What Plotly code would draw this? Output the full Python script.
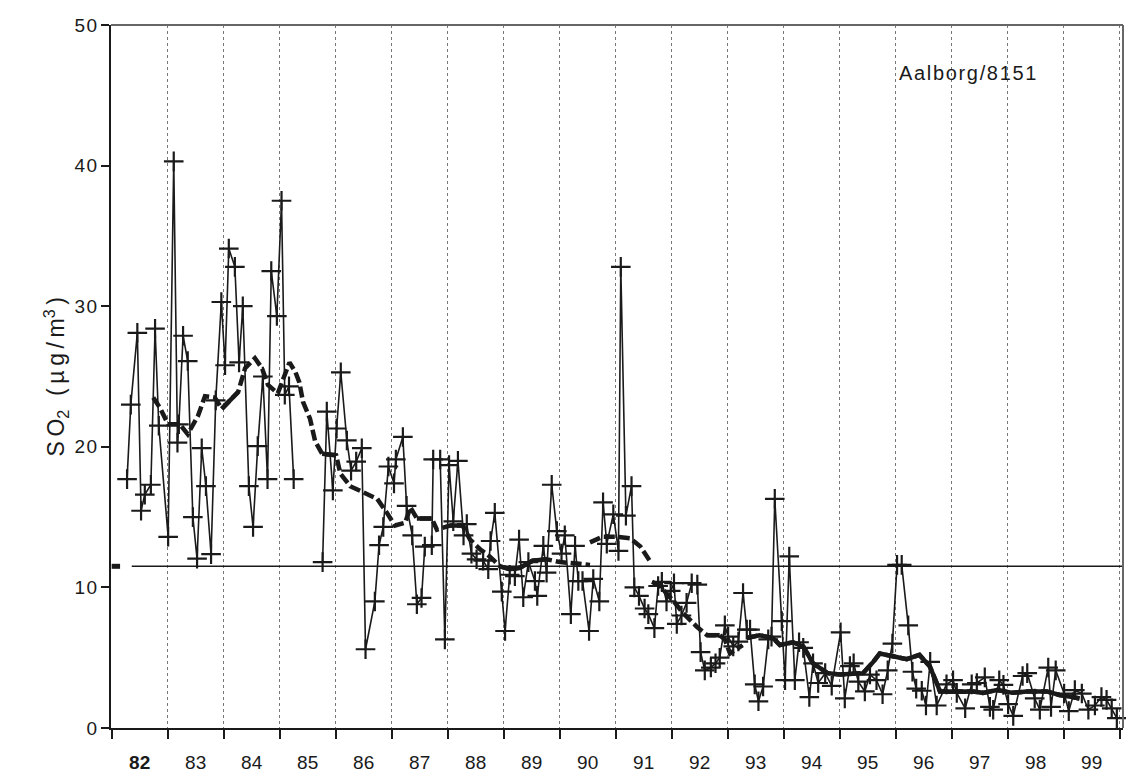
import plotly.graph_objects as go

# Monthly SO2 concentrations at Aalborg station 8151, position in months from Jan 1982
months = [
    3.3, 4.1, 5.5, 6.3, 7.1, 8.4, 9.3, 10.1, 12.1, 13.3, 14.1, 14.4, 15.3, 16.3, 17.4,
    18.3, 19.3, 20.2, 21.3, 22.3, 23.5, 24.3, 25.1, 26.4, 27.3, 28.1, 29.4, 30.3, 31.3,
    32.4, 33.4, 34.2, 35.4, 36.4, 37.1, 38.0, 39.0, 42.0, 45.2, 46.1, 47.4, 48.2, 49.1,
    50.4, 51.3, 52.4, 53.6, 54.4, 56.4, 57.3, 58.2, 59.3, 60.5, 60.9, 62.4, 63.2, 64.4,
    65.4, 66.4, 67.1, 68.6, 68.9, 70.4, 71.4, 72.3, 73.2, 74.2, 75.4, 76.1, 77.1, 78.2,
    79.6, 80.7, 81.2, 82.1, 83.6, 84.3, 85.3, 86.4, 87.3, 88.2, 89.3, 90.7, 91.2, 92.5,
    93.2, 94.3, 95.4, 96.4, 97.1, 98.4, 99.3, 100.0, 100.9, 102.3, 103.2, 104.5, 105.3,
    106.1, 107.5, 108.6, 109.1, 110.2, 111.4, 112.0, 113.0, 114.2, 115.0, 116.3, 117.1,
    117.9, 118.9, 119.8, 120.5, 121.1, 122.1, 123.2, 124.3, 125.5, 126.2, 127.1, 128.4,
    129.4, 130.3, 131.4, 132.1, 133.2, 134.3, 135.3, 136.1, 136.8, 137.8, 138.6, 139.6,
    140.7, 141.4, 142.1, 143.6, 144.3, 145.2, 146.4, 147.3, 148.2, 149.5, 150.3, 151.4,
    152.9, 154.3, 156.2, 157.1, 158.2, 159.0, 160.0, 161.4, 162.5, 163.9, 165.2, 166.3,
    167.3, 168.3, 169.3, 170.7, 171.6, 172.4, 173.6, 174.5, 175.4, 176.8, 178.9, 180.3,
    181.1, 182.9, 184.3, 185.4, 187.1, 188.2, 188.9, 190.2, 191.1, 192.1, 193.2, 195.2,
    196.2, 197.8, 198.9, 200.7, 201.3, 202.3, 204.1, 205.1, 206.4, 207.9, 209.3, 210.7,
    212.1, 213.2, 214.3, 215.4,
]
so2 = [
    17.7, 23.0, 28.1, 15.45, 16.6, 17.3, 28.4, 21.5, 13.6, 40.3, 20.3, 21.6, 27.9, 26.1, 15.0,
    12.05, 19.9, 17.2, 12.36, 23.3, 30.3, 25.8, 34.1, 32.8, 26.0, 30.0, 17.2, 14.3, 20.05,
    25.0, 17.7, 32.5, 29.3, 37.5, 23.7, 24.3, 17.7, None, 11.8, 22.5, 16.9, 21.3, 25.3,
    20.45, 18.3, 18.95, 19.9, 5.6, 9.0, 13.0, 14.3, 18.6, 17.4, 19.1, 20.7, 15.8, 13.7,
    8.8, 9.25, 12.9, 13.0, 19.1, 19.1, 6.3, 18.7, 14.7, 19.0, 13.7, 14.5, 12.4, 12.0,
    11.9, 11.3, 13.3, 15.3, 9.7, 6.9, 10.9, 10.8, 13.4, 9.3, 11.8, 10.45, 9.4, 12.95,
    11.05, 17.3, 14.0, 12.4, 13.7, 8.1, 12.95, 10.45, 10.45, 6.9, 10.6, 9.0, 16.05,
    13.1, 15.2, 12.6, 32.8, 15.1, 17.2, 10.0, 9.4, 8.5, 8.1, 7.1, 10.1,
    10.4, 9.0, 9.75, 10.3, 7.4, 8.0, 8.9, 10.3, 10.2, 5.4, 4.1, 4.3,
    4.6, 5.0, 7.3, 6.5, 5.8, 6.15, 9.6, 7.0, 7.0, 3.1, 1.9, 2.95,
    6.3, 6.5, 16.3, 7.6, 3.4, 12.2, 3.4, 6.1, 5.7, 2.2, 4.6, 3.2,
    3.9, 3.0, 6.8, 2.1, 4.4, 4.6, 3.3, 2.6, 3.8, 3.4, 2.4, 4.1,
    6.0, 11.6, 11.6, 7.3, 4.0, 2.8, 2.65, 1.6, 4.7, 1.6, 3.1, 3.4,
    2.5, 1.4, 3.1, 3.2, 3.6, 1.5, 1.3, 3.4, 3.07, 1.7, 0.86, 3.7,
    3.9, 2.1, 1.3, 4.3, 1.5, 4.1, 2.45, 1.2, 2.7, 2.45, 1.3, 1.6,
    2.2, 2.0, 1.4, 0.7,
]

# Running mean, in segments separated by None
rm_months = [
    8.9, 10.3, 12.1, 14.6, 16.3, 18.5, 20.0, 22.1, 23.6, 27.1, 28.6, 30.7, 32.2, 33.5,
    35.6, 37.1, 38.1, 39.4, 40.2, 41.0, 42.5, 43.6, 45.1, 48.1, 49.0, 51.1, 53.9, 56.9,
    59.0, 60.7, 62.9, 64.0, 65.4, 68.6, 69.7, 72.5, 75.2, 76.8, 79.0, 81.0, 83.2, 85.3,
    87.5, 90.2, 93.2, 96.1, 99.7, 102.5, 102.5,
    102.5, 105.2, 108.2, 111.1, 113.3, 115.3, 115.5,
    115.8, 117.5, 120.2, 122.4, 125.4, 127.6, 130.3, 131.4, 132.5, 135.2, 135.6,
    136.1, 138.8, 141.7, 143.2, 146.0, 148.2, 150.3, 153.4, 156.1, 161.0, 163.2, 164.6,
    167.4, 170.4, 173.1, 175.3, 176.8, 177.5, 181.1, 184.6, 186.7, 189.7, 193.1, 196.1,
    200.4, 203.1, 205.9, 207.4,
]
rm_values = [
    23.5, 22.8, 21.6, 21.6, 20.9, 22.2, 23.6, 23.5, 22.7, 23.9, 25.6, 26.3, 25.6, 24.4,
    23.8, 25.0, 26.0, 25.3, 24.6, 23.2, 22.0, 20.4, 19.5, 19.4, 18.1, 17.2, 16.8, 16.3,
    15.3, 14.4, 14.6, 15.7, 14.9, 14.9, 14.1, 14.4, 14.4, 13.4, 12.7, 12.2, 11.5, 11.3,
    11.4, 11.9, 12.0, 11.8, 11.7, 11.6, None,
    13.2, 13.6, 13.6, 13.5, 12.9, 11.9, None,
    10.4, 10.1, 9.1, 8.2, 7.2, 6.6, 6.6, 6.3, 5.3, 5.9, None,
    6.4, 6.6, 6.4, 5.9, 6.1, 5.8, 4.6, 3.9, 3.8, 3.9, 4.7, 5.3,
    5.1, 4.9, 5.2, 4.4, 3.2, 2.6, 2.6, 2.6, 2.5, 2.7, 2.5, 2.6,
    2.6, 2.35, 2.2, 2.1,
]
# Month spans where the running mean is drawn unbroken
solid_spans = [(12.1, 14.6), (23.6, 27.1), (45.1, 48.1), (65.4, 68.6), (72.5, 75.2),
               (83.2, 93.2), (127.6, 130.3), (136.1, 207.4)]

# Long-term reference level and the month where its line begins
reference_level = 11.5
reference_start_month = 4.3
reference_marker_months = (0.0, 1.8)

year_labels = ["<b>82</b>", "83", "84", "85", "86", "87", "88", "89", "90",
               "91", "92", "93", "94", "95", "96", "97", "98", "99"]
first_year = 1982
y_ticks = [0, 10, 20, 30, 40, 50]

HAIR = "\u200a"
THIN = "\u2009"


def to_year(m):
    return None if m is None else first_year + m / 12.0


def spaced(s, gap):
    return gap.join(s)


x_data = [to_year(m) for m in months]
rm_x = [to_year(m) for m in rm_months]

solid_x, solid_y = [], []
for lo, hi in solid_spans:
    for m, v in zip(rm_months, rm_values):
        if v is not None and lo <= m <= hi:
            solid_x.append(to_year(m))
            solid_y.append(v)
    solid_x.append(None)
    solid_y.append(None)

ink = "#1a1a1a"
font_family = "Liberation Sans, Arial, Helvetica, sans-serif"
last_year = first_year + len(year_labels)

fig = go.Figure()

# reference level line and its short marker at the axis
fig.add_trace(go.Scatter(
    x=[to_year(reference_start_month), last_year + 0.1],
    y=[reference_level, reference_level],
    mode="lines", line=dict(color=ink, width=1.6), hoverinfo="skip", showlegend=False))
fig.add_trace(go.Scatter(
    x=[to_year(m) for m in reference_marker_months],
    y=[reference_level, reference_level],
    mode="lines", line=dict(color=ink, width=5), hoverinfo="skip", showlegend=False,
    cliponaxis=False))

# running mean, dashed with unbroken parts on top
fig.add_trace(go.Scatter(
    x=rm_x, y=rm_values, mode="lines",
    line=dict(color=ink, width=4.5, dash="11px,4px"),
    connectgaps=False, showlegend=False))
fig.add_trace(go.Scatter(
    x=solid_x, y=solid_y, mode="lines",
    line=dict(color=ink, width=4.5),
    connectgaps=False, showlegend=False))

# monthly values
fig.add_trace(go.Scatter(
    x=x_data, y=so2, mode="lines+markers",
    line=dict(color=ink, width=1.6),
    marker=dict(symbol="cross-thin", size=14, line=dict(color=ink, width=2.2)),
    connectgaps=False, showlegend=False, cliponaxis=False))

mid_years = [first_year + i + 0.5 for i in range(len(year_labels))]
year_edges = [first_year + i for i in range(len(year_labels) + 1)]

fig.update_layout(
    width=1126, height=781,
    margin=dict(l=111, r=3, t=25, b=53),
    paper_bgcolor="white", plot_bgcolor="white",
    font=dict(family=font_family, size=19, color=ink),
    xaxis=dict(
        range=[first_year - 0.012, last_year + 0.06],
        tickmode="array", tickvals=mid_years, ticktext=year_labels,
        ticks="outside", ticklen=16, tickcolor="rgba(0,0,0,0)",
        showgrid=False, zeroline=False,
        showline=True, linecolor=ink, linewidth=2,
        tickfont=dict(size=19, family=font_family, color=ink),
        minor=dict(tickmode="array", tickvals=year_edges, ticks="outside",
                   ticklen=9, tickwidth=2, tickcolor=ink,
                   showgrid=True, gridcolor="#777777", gridwidth=1, griddash="dot"),
    ),
    yaxis=dict(
        range=[0, 50], tickmode="array", tickvals=y_ticks,
        ticktext=[spaced(str(v), HAIR) for v in y_ticks],
        ticks="outside", ticklen=8, tickwidth=2, tickcolor=ink,
        showgrid=False, zeroline=False,
        showline=True, linecolor=ink, linewidth=2,
        tickfont=dict(size=19, family=font_family, color=ink),
    ),
    shapes=[
        dict(type="line", xref="paper", yref="paper", x0=0, x1=1, y0=1, y1=1,
             line=dict(color="#666666", width=2)),
        dict(type="line", xref="paper", yref="paper", x0=1, x1=1, y0=0, y1=1,
             line=dict(color="#666666", width=2)),
    ],
    annotations=[
        dict(text=spaced("Aalborg/8151", HAIR),
             xref="paper", yref="paper", x=0.846, y=0.932,
             xanchor="center", yanchor="middle", showarrow=False,
             font=dict(size=20, family=font_family, color=ink)),
        dict(text="S" + THIN + "O<sub>2</sub>" + THIN * 3 + "(" + THIN + "µ" + THIN + "g"
                  + THIN + "/" + THIN + "m<sup>3</sup>" + THIN + ")",
             xref="paper", yref="paper", x=-0.0553, y=0.5,
             xanchor="center", yanchor="middle", textangle=-90, showarrow=False,
             font=dict(size=23, family=font_family, color=ink)),
    ],
)

fig.write_html("out.html")
